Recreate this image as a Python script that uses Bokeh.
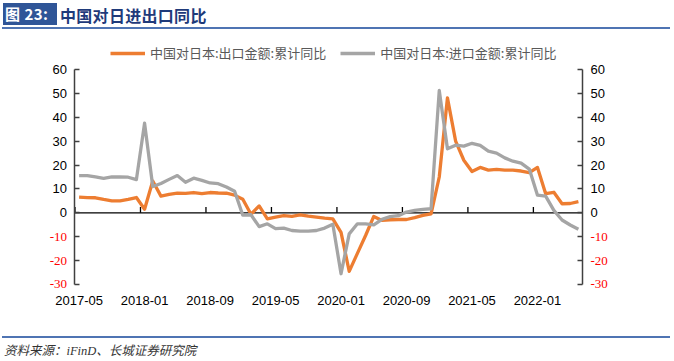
from bokeh.plotting import figure
from bokeh.models import (ColumnDataSource, FixedTicker, LinearAxis, Range1d,
                          Legend, LegendItem, LabelSet, Div)
from bokeh.layouts import column
from bokeh.embed import file_html
from bokeh.resources import INLINE

# ---------------- data ----------------
export_yoy = [6.6, 6.4, 6.3, 5.6, 5.0, 5.0, 5.6, 6.4, 1.5, 13.3,
              7.0, 7.7, 8.2, 8.1, 8.5, 8.0, 8.5, 8.3, 8.2, 7.4,
              5.7, -0.6, 2.9, -2.5, -1.8, -1.2, -1.5, -0.9, -1.4, -1.8,
              -2.2, -2.5, -8.2, -24.5, -17.0, -9.5, -1.5, -3.2, -2.9, -2.8,
              -2.8, -2.0, -1.1, -0.4, 15.0, 48.1, 30.0, 22.0, 17.3, 19.0,
              17.9, 18.2, 17.9, 17.9, 17.5, 16.8, 19.0, 8.0, 8.6, 3.8,
              3.9, 4.7]
import_yoy = [15.6, 15.6, 15.0, 14.4, 15.0, 15.0, 14.9, 13.9, 37.5, 11.0,
              12.3, 14.0, 15.6, 12.8, 14.5, 13.6, 12.5, 12.2, 10.8, 9.0,
              -1.0, -0.8, -5.8, -4.6, -6.6, -6.4, -7.4, -7.7, -7.7, -7.4,
              -6.4, -4.8, -25.5, -8.8, -4.6, -4.6, -5.0, -2.7, -1.6, -1.2,
              0.3, 1.0, 1.4, 1.7, 51.2, 26.8, 28.3, 27.9, 29.1, 28.2,
              25.8, 25.0, 23.0, 21.6, 20.8, 18.3, 7.4, 7.0, 1.0, -3.0,
              -5.1, -6.9]
months = [f"{2017 + (4 + i) // 12}-{(4 + i) % 12 + 1:02d}" for i in range(len(export_yoy))]
x_tick_labels = ["2017-05", "2018-01", "2018-09", "2019-05",
                 "2020-01", "2020-09", "2021-05", "2022-01"]
y_ticks = [-30, -20, -10, 0, 10, 20, 30, 40, 50, 60]
series_names = ["中国对日本:出口金额:累计同比", "中国对日本:进口金额:累计同比"]
title_no = "图 23:"
title_text = "中国对日进出口同比"
source_text = "资料来源：iFinD、长城证券研究院"

# ---------------- styles ----------------
ORANGE = "#ED7D31"
GRAY = "#A5A5A5"
BLUE_BOX = "#2F5597"
BLUE_RULE = "#4F74B3"
TITLE_COLOR = "#1F3A7A"
TICK_FONT = "Liberation Sans"
CJK_FONT = "Noto Sans CJK SC"

W = 674
n = len(months)
xs = [i + 0.5 for i in range(n)]
Y_LO, Y_HI = y_ticks[0], y_ticks[-1]
# the frame is a little larger than the plotted area so that the legend and
# the coloured tick labels are not clipped
Y_FRAME_LO, Y_FRAME_HI = -34.19, 72.55
X_LO, X_HI = -5.436, n + 7.574

src = ColumnDataSource(dict(x=xs, exp=export_yoy, imp=import_yoy, month=months))

p = figure(width=W, height=300, x_range=Range1d(X_LO, X_HI),
           y_range=Range1d(Y_FRAME_LO, Y_FRAME_HI),
           output_backend="svg", toolbar_location=None,
           min_border_left=30, min_border_right=30, min_border_top=9, min_border_bottom=36)
p.outline_line_color = None
p.xgrid.visible = False
p.ygrid.visible = False
p.background_fill_color = "white"
p.border_fill_color = "white"

# zero line and x tick marks on it
p.segment(x0=[0], y0=[0], x1=[n], y1=[0], line_color="black", line_width=1.3)
tick_pos = [months.index(lbl) for lbl in x_tick_labels]
p.segment(x0=tick_pos, y0=[0] * len(tick_pos), x1=tick_pos, y1=[2.4] * len(tick_pos),
          line_color="black", line_width=1.3)

r_exp = p.line("x", "exp", source=src, line_color=ORANGE, line_width=3.3, line_join="round")
r_imp = p.line("x", "imp", source=src, line_color=GRAY, line_width=3.3, line_join="round")

# x axis (labels only)
xa = p.xaxis[0]
label_pos = [months.index(lbl) + 0.5 for lbl in x_tick_labels]
xa.ticker = FixedTicker(ticks=label_pos)
xa.major_label_overrides = {pos: lbl for pos, lbl in zip(label_pos, x_tick_labels)}
xa.axis_line_color = None
xa.major_tick_line_color = None
xa.minor_tick_line_color = None
xa.major_tick_in = 0
xa.major_tick_out = 0
xa.major_label_standoff = 1
xa.major_label_text_font = TICK_FONT
xa.major_label_text_font_size = "13px"
xa.major_label_text_color = "black"


def style_y(ax, loc):
    ax.fixed_location = loc
    ax.bounds = (Y_LO, Y_HI)
    ax.ticker = FixedTicker(ticks=y_ticks)
    ax.major_label_overrides = {t: "" for t in y_ticks if t < 0}
    ax.axis_line_color = "#404040"
    ax.axis_line_width = 1.5
    ax.major_tick_line_color = "#404040"
    ax.major_tick_line_width = 1.3
    ax.major_tick_in = 5
    ax.major_tick_out = 0
    ax.minor_tick_line_color = None
    ax.major_label_standoff = 8
    ax.major_label_text_font = TICK_FONT
    ax.major_label_text_font_size = "13px"
    ax.major_label_text_color = "black"


style_y(p.yaxis[0], 0)
ra = LinearAxis()
style_y(ra, n)
p.add_layout(ra, "right")

# negative tick labels in red
neg = [t for t in y_ticks if t < 0]
neg_l = ColumnDataSource(dict(x=[0] * len(neg), y=neg, t=[str(v) for v in neg]))
neg_r = ColumnDataSource(dict(x=[n] * len(neg), y=neg, t=[str(v) for v in neg]))
p.add_layout(LabelSet(x="x", y="y", text="t", source=neg_l, x_offset=-8,
                      text_align="right", text_baseline="middle", text_color="#FF0000",
                      text_font=TICK_FONT, text_font_size="13px"))
p.add_layout(LabelSet(x="x", y="y", text="t", source=neg_r, x_offset=8,
                      text_align="left", text_baseline="middle", text_color="#FF0000",
                      text_font=TICK_FONT, text_font_size="13px"))

legend = Legend(items=[LegendItem(label=series_names[0], renderers=[r_exp]),
                       LegendItem(label=series_names[1], renderers=[r_imp])],
                orientation="horizontal", location=(80, 232))
legend.label_text_font = CJK_FONT
legend.label_text_font_size = "13px"
legend.label_text_color = "#595959"
legend.glyph_width = 35
legend.glyph_height = 16
legend.label_height = 16
legend.label_standoff = 5
legend.spacing = 14
legend.padding = 0
legend.margin = 0
legend.border_line_color = None
legend.background_fill_alpha = 0
p.add_layout(legend, "center")

header = Div(width=W, height=30, margin=(0, 0, 0, 0), text=(
    f'<div style="position:relative;width:{W}px;height:30px;font-family:\'{CJK_FONT}\';white-space:nowrap;">'
    f'<div style="position:absolute;left:3px;top:3px;width:54px;height:22px;background:{BLUE_BOX};'
    f'color:#fff;font-weight:bold;font-size:15px;line-height:22px;padding-left:2px;letter-spacing:0.5px;'
    f'box-sizing:border-box;">{title_no}</div>'
    f'<div style="position:absolute;left:60px;top:4px;color:{TITLE_COLOR};font-weight:bold;'
    f'font-size:16px;line-height:22px;letter-spacing:0.3px;">{title_text}</div>'
    f'<div style="position:absolute;left:2px;top:27px;width:668px;height:2px;background:{BLUE_RULE};"></div>'
    f'</div>'))

footer = Div(width=W, height=30, margin=(0, 0, 0, 0), text=(
    f'<div style="position:relative;width:{W}px;height:30px;">'
    f'<div style="position:absolute;left:2px;top:6px;width:668px;height:1.5px;background:{BLUE_RULE};"></div>'
    f'<div style="position:absolute;left:4px;top:13px;font-family:\'Liberation Serif\',\'{CJK_FONT}\';'
    f'font-style:italic;font-size:12.5px;line-height:16px;color:#333;white-space:nowrap;">{source_text}</div></div>'))

layout = column(header, p, footer, spacing=0)
open("out.html", "w").write(file_html(layout, INLINE))
